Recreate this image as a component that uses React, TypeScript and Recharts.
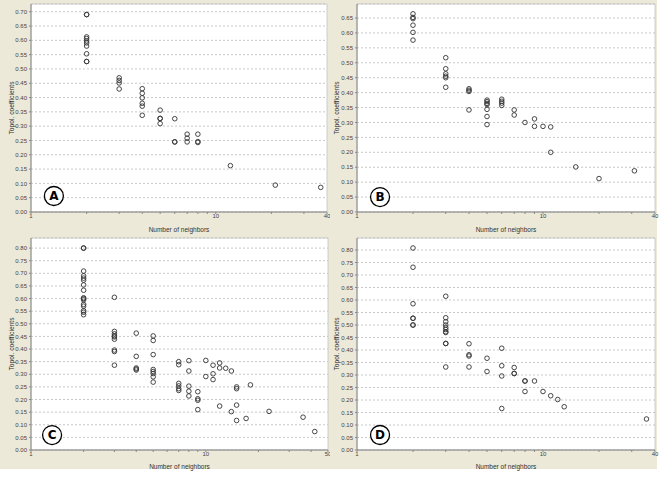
import React from 'react';
import { ScatterChart, Scatter, XAxis, YAxis, CartesianGrid, ReferenceDot, ReferenceArea } from 'recharts';

// ---- Data (neighbors -> list of topological coefficients) ----
const neighborsA = [2, 3, 4, 5, 6, 7, 8, 12, 21, 37];
const coefficientsA = [
  [0.69, 0.69, 0.612, 0.606, 0.598, 0.591, 0.58, 0.553, 0.526, 0.526],
  [0.469, 0.46, 0.451, 0.43],
  [0.431, 0.415, 0.399, 0.38, 0.37, 0.338],
  [0.356, 0.327, 0.327, 0.309],
  [0.326, 0.245, 0.245],
  [0.272, 0.258, 0.245],
  [0.272, 0.246, 0.243],
  [0.162],
  [0.094],
  [0.086],
];

const neighborsB = [2, 3, 4, 5, 6, 7, 8, 9, 10, 11, 15, 20, 31];
const coefficientsB = [
  [0.664, 0.652, 0.648, 0.626, 0.602, 0.576],
  [0.517, 0.48, 0.463, 0.455, 0.45, 0.418],
  [0.413, 0.408, 0.404, 0.342],
  [0.375, 0.37, 0.364, 0.36, 0.344, 0.32, 0.293],
  [0.378, 0.371, 0.365, 0.357],
  [0.342, 0.325],
  [0.3],
  [0.312, 0.287],
  [0.287],
  [0.285, 0.2],
  [0.151],
  [0.112],
  [0.138],
];

const neighborsC = [2, 3, 4, 5, 7, 8, 9, 10, 11, 12, 13, 14, 15, 17, 18, 23, 36, 42];
const coefficientsC = [
  [0.8, 0.8, 0.709, 0.69, 0.681, 0.673, 0.654, 0.633, 0.603, 0.6, 0.595, 0.577, 0.57, 0.552, 0.546, 0.536],
  [0.605, 0.47, 0.46, 0.452, 0.448, 0.439, 0.396, 0.39, 0.336],
  [0.463, 0.371, 0.325, 0.321, 0.317],
  [0.452, 0.434, 0.378, 0.319, 0.311, 0.303, 0.29, 0.269],
  [0.35, 0.338, 0.264, 0.254, 0.243, 0.236],
  [0.354, 0.313, 0.253, 0.233, 0.214],
  [0.231, 0.203, 0.197, 0.16],
  [0.355, 0.291],
  [0.336, 0.302, 0.279],
  [0.345, 0.325, 0.174],
  [0.324],
  [0.313, 0.152],
  [0.25, 0.243, 0.178, 0.117],
  [0.125],
  [0.258],
  [0.153],
  [0.13],
  [0.073],
];

const neighborsD = [2, 3, 4, 5, 6, 7, 8, 9, 10, 11, 12, 13, 36];
const coefficientsD = [
  [0.808, 0.731, 0.585, 0.527, 0.527, 0.5, 0.5],
  [0.615, 0.529, 0.513, 0.5, 0.49, 0.482, 0.473, 0.47, 0.426, 0.426, 0.332],
  [0.425, 0.381, 0.376, 0.332],
  [0.367, 0.314],
  [0.407, 0.337, 0.296, 0.166],
  [0.33, 0.306, 0.306],
  [0.276, 0.276, 0.234],
  [0.276],
  [0.234],
  [0.217],
  [0.202],
  [0.173],
  [0.124],
];

// ---- Tick labels ----
const xTicks40 = [1, 2, 3, 4, 5, 6, 7, 8, 9, 10, 20, 30, 40];
const xTicks50 = [1, 2, 3, 4, 5, 6, 7, 8, 9, 10, 20, 30, 40, 50];
const xLabels40 = [1, 10, 40];
const xLabels50 = [1, 10, 50];
const yTicks70 = [0, 0.05, 0.1, 0.15, 0.2, 0.25, 0.3, 0.35, 0.4, 0.45, 0.5, 0.55, 0.6, 0.65, 0.7];
const yTicks65 = [0, 0.05, 0.1, 0.15, 0.2, 0.25, 0.3, 0.35, 0.4, 0.45, 0.5, 0.55, 0.6, 0.65];
const yTicks80 = [0, 0.05, 0.1, 0.15, 0.2, 0.25, 0.3, 0.35, 0.4, 0.45, 0.5, 0.55, 0.6, 0.65, 0.7, 0.75, 0.8];

const xTitle = 'Number of neighbors';
const yTitle = 'Topol. coefficients';

const flatten = (xs: number[], ys: number[][]) =>
  xs.flatMap((x, i) => ys[i].map((y) => ({ x, y })));

const FONT = '"Liberation Sans", Arial, sans-serif';

const Marker = (props: any) => {
  const { cx, cy } = props;
  if (cx == null || cy == null) return null;
  return <circle cx={cx} cy={cy} r={2.3} fill="none" stroke="#333" strokeWidth={0.9} />;
};

type PanelProps = {
  left: number;
  top: number;
  width: number;
  height: number;
  margin: { top: number; right: number; bottom: number; left: number };
  yAxisWidth: number;
  xAxisHeight: number;
  data: { x: number; y: number }[];
  xMax: number;
  xTicks: number[];
  xLabels: number[];
  yMax: number;
  yTicks: number[];
  badge: string;
  badgeX: number;
  badgeY: number;
  yLabelDx: number;
  xLabelOffset: number;
};

const Panel = (p: PanelProps) => (
  <div style={{ position: 'absolute', left: p.left, top: p.top }}>
    <ScatterChart width={p.width} height={p.height} margin={p.margin}>
      <CartesianGrid
        vertical={false}
        horizontal={true}
        stroke="#c8c8c8"
        strokeDasharray="2 2"
        fill="#ffffff"
        fillOpacity={1}
      />
      <ReferenceArea
        x1={1}
        x2={p.xMax}
        y1={0}
        y2={p.yMax}
        fill="none"
        fillOpacity={0}
        stroke="#c4c4c4"
        strokeWidth={0.8}
        ifOverflow="visible"
      />
      <XAxis
        dataKey="x"
        type="number"
        scale="log"
        domain={[1, p.xMax]}
        ticks={p.xTicks}
        interval={0}
        allowDataOverflow
        height={p.xAxisHeight}
        tickSize={2}
        tickMargin={0}
        stroke="#888"
        tick={{ fontSize: 6, fill: '#444', fontFamily: FONT }}
        tickFormatter={(v: number) => (p.xLabels.includes(v) ? String(v) : '')}
        label={{
          value: xTitle,
          position: 'insideBottom',
          offset: p.xLabelOffset,
          fontSize: 6.5,
          fill: '#333',
          fontFamily: FONT,
        }}
      />
      <YAxis
        dataKey="y"
        type="number"
        domain={[0, p.yMax]}
        ticks={p.yTicks}
        interval={0}
        allowDataOverflow
        width={p.yAxisWidth}
        tickSize={2}
        tickMargin={2}
        stroke="#888"
        tick={{ fontSize: 6, fill: '#444', fontFamily: FONT }}
        tickFormatter={(v: number) => v.toFixed(2)}
        label={{
          value: yTitle,
          angle: -90,
          position: 'center',
          dx: p.yLabelDx,
          fontSize: 6.7,
          fill: '#333',
          fontFamily: FONT,
        }}
      />
      <Scatter data={p.data} shape={Marker} isAnimationActive={false} />
      <ReferenceDot
        x={p.badgeX}
        y={p.badgeY}
        r={9.5}
        fill="#ffffff"
        stroke="#000"
        strokeWidth={1.3}
        label={{
          value: p.badge,
          position: 'center',
          fontSize: 12,
          fontWeight: 'bold',
          fill: '#000',
          fontFamily: '"DejaVu Sans", sans-serif',
        }}
      />
    </ScatterChart>
  </div>
);

export default function App() {
  return (
    <div
      style={{
        position: 'absolute',
        left: 0,
        top: 0,
        width: 661,
        height: 477,
        background: '#ffffff',
        overflow: 'hidden',
      }}
    >
      <div style={{ position: 'absolute', left: 0, top: 0, width: 657, height: 469, background: '#ECE9D8' }} />
      <Panel
        left={0}
        top={0}
        width={330}
        height={237}
        margin={{ top: 4, right: 3, bottom: 0, left: 0 }}
        yAxisWidth={31}
        xAxisHeight={25}
        data={flatten(neighborsA, coefficientsA)}
        xMax={40}
        xTicks={xTicks40}
        xLabels={xLabels40}
        yMax={0.727}
        yTicks={yTicks70}
        badge="A"
        badgeX={1.33}
        badgeY={0.056}
        yLabelDx={-3.5}
        xLabelOffset={5}
      />
      <Panel
        left={330}
        top={0}
        width={331}
        height={237}
        margin={{ top: 4, right: 6, bottom: 0, left: 0 }}
        yAxisWidth={27}
        xAxisHeight={25}
        data={flatten(neighborsB, coefficientsB)}
        xMax={40}
        xTicks={xTicks40}
        xLabels={xLabels40}
        yMax={0.697}
        yTicks={yTicks65}
        badge="B"
        badgeX={1.33}
        badgeY={0.05}
        yLabelDx={-6.5}
        xLabelOffset={5}
      />
      <Panel
        left={0}
        top={237}
        width={330}
        height={240}
        margin={{ top: 1, right: 2, bottom: 0, left: 0 }}
        yAxisWidth={31}
        xAxisHeight={27}
        data={flatten(neighborsC, coefficientsC)}
        xMax={50}
        xTicks={xTicks50}
        xLabels={xLabels50}
        yMax={0.84}
        yTicks={yTicks80}
        badge="C"
        badgeX={1.32}
        badgeY={0.059}
        yLabelDx={-3.5}
        xLabelOffset={8}
      />
      <Panel
        left={330}
        top={237}
        width={331}
        height={240}
        margin={{ top: 1, right: 6, bottom: 0, left: 0 }}
        yAxisWidth={27}
        xAxisHeight={27}
        data={flatten(neighborsD, coefficientsD)}
        xMax={40}
        xTicks={xTicks40}
        xLabels={xLabels40}
        yMax={0.848}
        yTicks={yTicks80}
        badge="D"
        badgeX={1.33}
        badgeY={0.06}
        yLabelDx={-6.5}
        xLabelOffset={8}
      />
    </div>
  );
}
